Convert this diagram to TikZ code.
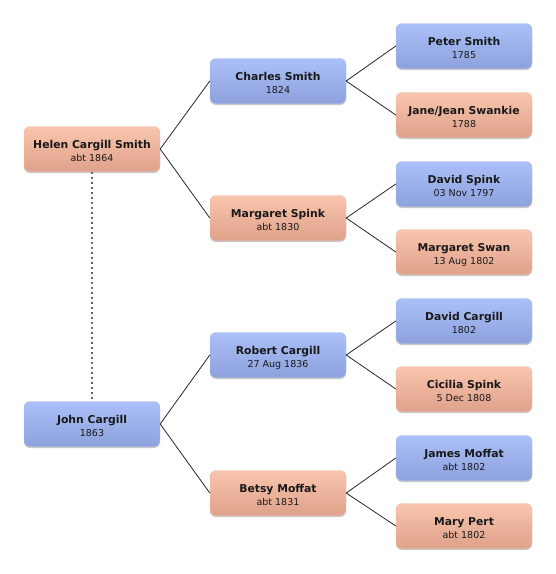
\documentclass[tikz,border=0pt]{standalone}
\usepackage{fontspec}
\setmainfont{DejaVu Sans}
\usepackage{tikz}
\usetikzlibrary{shadows}
\definecolor{maletop}{HTML}{ABC0F8}
\definecolor{malebot}{HTML}{8DA1DD}
\definecolor{femtop}{HTML}{F9C5AE}
\definecolor{fembot}{HTML}{DFA18A}
\tikzset{
  person/.style={rectangle, rounded corners=6pt, draw=#1bot!70!white, line width=0.4pt,
                 top color=#1top, bottom color=#1bot,
                 minimum width=136pt, minimum height=45pt, inner sep=0pt,
                 text=black!90,
                 font=\fontsize{9.5}{12.5}\selectfont,
                 drop shadow={shadow xshift=0pt, shadow yshift=-1.5pt, opacity=0.22, fill=black}},
  link/.style={draw=black!85, line width=0.8pt},
  spouse/.style={draw=black!60, line width=1.6pt, dash pattern=on 2.2pt off 2.8pt},
}
\newcommand{\who}[2]{\raisebox{-12.3pt}[0pt][0pt]{\begin{tabular}[b]{@{}c@{}}%
  {\fontsize{10.8}{12.5}\selectfont\bfseries #1}\\#2\end{tabular}}}

\begin{document}
\begin{tikzpicture}[x=1pt, y=-1pt]
  \useasboundingbox (0,0) rectangle (556,574);
  % generation 1
  \node[person=fem]  (helen)   at (92,149)  {\who{Helen Cargill Smith}{abt 1864}};
  \node[person=male] (john)    at (92,424)  {\who{John Cargill}{1863}};
  % parents
  \node[person=male] (charles) at (278,81)  {\who{Charles Smith}{1824}};
  \node[person=fem]  (margsp)  at (278,218) {\who{Margaret Spink}{abt 1830}};
  \node[person=male] (robert)  at (278,355) {\who{Robert Cargill}{27 Aug 1836}};
  \node[person=fem]  (betsy)   at (278,493) {\who{Betsy Moffat}{abt 1831}};
  % grandparents
  \node[person=male] (peter)   at (464,46)  {\who{Peter Smith}{1785}};
  \node[person=fem]  (jane)    at (464,115) {\who{Jane/Jean Swankie}{1788}};
  \node[person=male] (davsp)   at (464,184) {\who{David Spink}{03 Nov 1797}};
  \node[person=fem]  (margsw)  at (464,252) {\who{Margaret Swan}{13 Aug 1802}};
  \node[person=male] (davca)   at (464,321) {\who{David Cargill}{1802}};
  \node[person=fem]  (cicilia) at (464,389) {\who{Cicilia Spink}{5 Dec 1808}};
  \node[person=male] (james)   at (464,458) {\who{James Moffat}{abt 1802}};
  \node[person=fem]  (mary)    at (464,526) {\who{Mary Pert}{abt 1802}};

  \draw[spouse] (helen.south) -- (john.north);
  \draw[link] (helen.east)   -- (charles.west);
  \draw[link] (helen.east)   -- (margsp.west);
  \draw[link] (john.east)    -- (robert.west);
  \draw[link] (john.east)    -- (betsy.west);
  \draw[link] (charles.east) -- (peter.west);
  \draw[link] (charles.east) -- (jane.west);
  \draw[link] (margsp.east)  -- (davsp.west);
  \draw[link] (margsp.east)  -- (margsw.west);
  \draw[link] (robert.east)  -- (davca.west);
  \draw[link] (robert.east)  -- (cicilia.west);
  \draw[link] (betsy.east)   -- (james.west);
  \draw[link] (betsy.east)   -- (mary.west);
\end{tikzpicture}
\end{document}
